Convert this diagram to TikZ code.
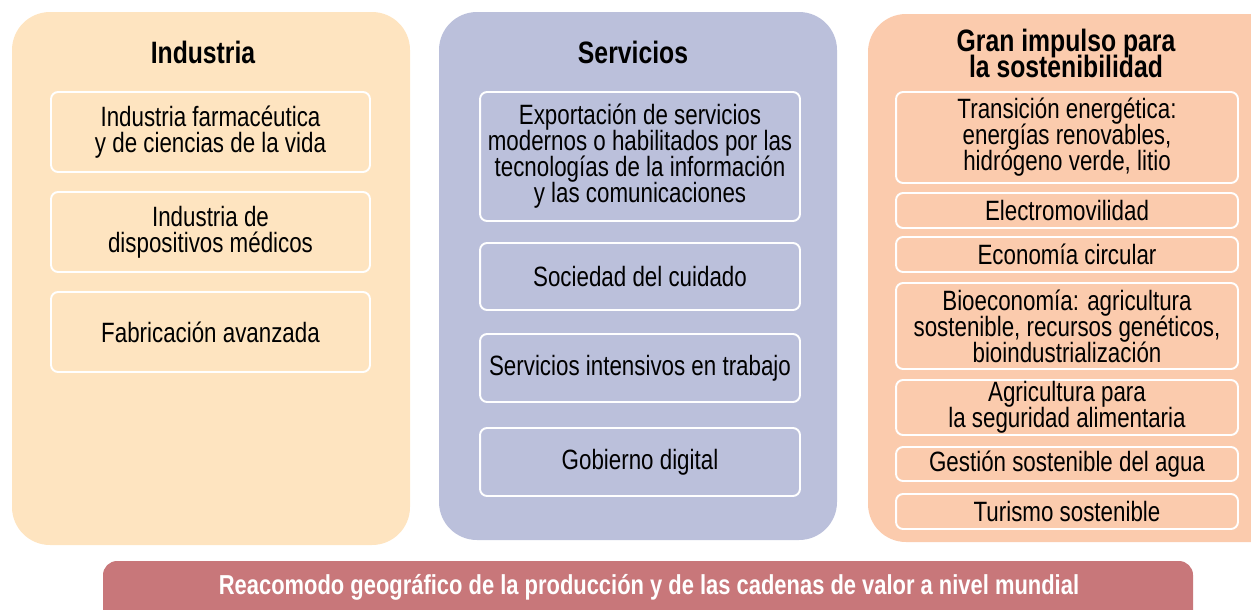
\documentclass[tikz,border=0pt]{standalone}
\usepackage{fontspec}
\setmainfont{Liberation Sans}[FakeStretch=0.80]
\setlength{\lineskiplimit}{-20pt}
\definecolor{indfill}{HTML}{FEE4C0}
\definecolor{serfill}{HTML}{BBC0DB}
\definecolor{granfill}{HTML}{FBCBAD}
\definecolor{barfill}{HTML}{C8777A}
\tikzset{
  panel/.style={rounded corners=0.76cm},
  itembox/.style={draw=white,line width=1.1pt,rounded corners=4pt,align=center,
    inner sep=0pt,font=\fontsize{15.9}{14.8}\selectfont},
  heading/.style={align=center,font=\bfseries\fontsize{17.6}{14.8}\selectfont}
}
\begin{document}
\begin{tikzpicture}[x=0.02cm,y=-0.02cm]
  \useasboundingbox (0,0) rectangle (1251,609);
  \clip (0,0) rectangle (1251,609);
  % panels
  \fill[indfill,panel] (12,12) rectangle (410,545);
  \fill[serfill,panel] (439,12) rectangle (837,540);
  \fill[granfill,panel] (868,14) rectangle (1290,542);
  \fill[barfill,rounded corners=8pt] (103,561) rectangle (1193,640);
  % Industria
  \node[heading] (ind) at (203,52) {Industria};
  \node[itembox,minimum width=6.38cm,minimum height=1.6cm] (farma) at (210.5,132)
    {Industria farmacéutica\\y de ciencias de la vida};
  \node[itembox,minimum width=6.38cm,minimum height=1.6cm] (dispo) at (210.5,232)
    {Industria de\\dispositivos médicos};
  \node[itembox,minimum width=6.38cm,minimum height=1.6cm] (fabri) at (210.5,332)
    {Fabricación avanzada};
  % Servicios
  \node[heading] (serv) at (633,52) {Servicios};
  \node[itembox,minimum width=6.4cm,minimum height=2.58cm] (expo) at (640,156.5)
    {Exportación de servicios\\modernos o habilitados por las\\tecnologías de la información\\y las comunicaciones};
  \node[itembox,minimum width=6.4cm,minimum height=1.34cm] (cuid) at (640,276.5)
    {Sociedad del cuidado};
  \node[itembox,minimum width=6.4cm,minimum height=1.36cm] (trab) at (640,368)
    {Servicios intensivos en trabajo};
  \node[itembox,minimum width=6.4cm,minimum height=1.36cm] (gob) at (640,462)
    {Gobierno digital};
  % Gran impulso
  \node[heading] (gran) at (1066,53) {Gran impulso para\\la sostenibilidad};
  \node[itembox,minimum width=6.84cm,minimum height=1.82cm] (trans) at (1067,137.5)
    {Transición energética:\\energías renovables,\\hidrógeno verde, litio};
  \node[itembox,minimum width=6.84cm,minimum height=0.7cm] (elec) at (1067,210.5)
    {Electromovilidad};
  \node[itembox,minimum width=6.84cm,minimum height=0.7cm] (circ) at (1067,254.5)
    {Economía circular};
  \node[itembox,minimum width=6.84cm,minimum height=1.72cm] (bio) at (1067,326)
    {Bioeconomía: agricultura\\sostenible, recursos genéticos,\\bioindustrialización};
  \node[itembox,minimum width=6.84cm,minimum height=1.1cm] (agri) at (1067,407.5)
    {Agricultura para\\la seguridad alimentaria};
  \node[itembox,minimum width=6.84cm,minimum height=0.68cm] (agua) at (1067,464)
    {Gestión sostenible del agua};
  \node[itembox,minimum width=6.84cm,minimum height=0.7cm] (turi) at (1067,511.5)
    {Turismo sostenible};
  % bottom bar
  \node[text=white,font=\bfseries\fontsize{15.6}{14}\selectfont] (reac) at (649,587)
    {Reacomodo geográfico de la producción y de las cadenas de valor a nivel mundial};
\end{tikzpicture}
\end{document}
